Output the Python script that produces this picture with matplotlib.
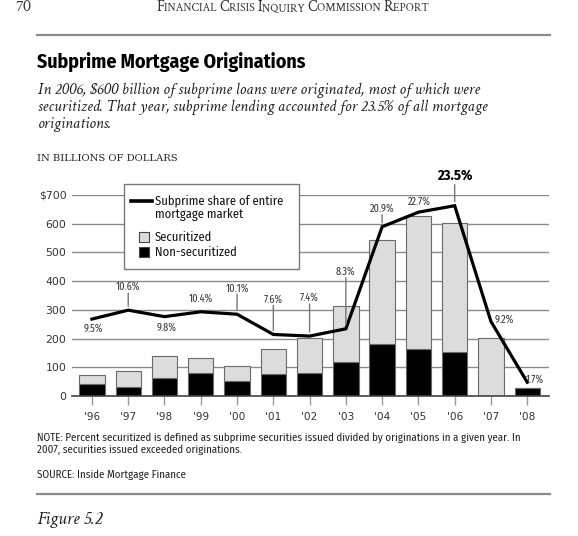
import matplotlib.pyplot as plt
import numpy as np
from matplotlib import font_manager as fm
from matplotlib.lines import Line2D
from matplotlib.patches import Rectangle

# data
years = ["'96", "'97", "'98", "'99", "'00", "'01", "'02", "'03", "'04", "'05", "'06", "'07", "'08"]
total = [73, 88, 140, 134, 105, 163, 203, 314, 543, 627, 603, 203, 27]
non_sec = [42, 33, 62, 79, 52, 76, 81, 120, 180, 164, 153, 0, 27]
share = [9.5, 10.6, 9.8, 10.4, 10.1, 7.6, 7.4, 8.3, 20.9, 22.7, 23.5, 9.2, 1.7]
share_labels = ["9.5%", "10.6%", "9.8%", "10.4%", "10.1%", "7.6%", "7.4%", "8.3%",
                "20.9%", "22.7%", "23.5%", "9.2%", "1.7%"]
yticks = [0, 100, 200, 300, 400, 500, 600, 700]
ytick_labels = ["0", "100", "200", "300", "400", "500", "600", "$700"]

sec = [t - n for t, n in zip(total, non_sec)]

W, H = 578, 536
PX = 0.72  # points per pixel at 100 dpi
L = 37     # left margin in pixels

available = {f.name for f in fm.fontManager.ttflist}

def pick(cands, default):
    return next((c for c in cands if c in available), default)

SANS = pick(["Fira Sans Condensed", "IBM Plex Sans Condensed", "Roboto Condensed",
             "Archivo Narrow", "PT Sans Narrow", "Liberation Sans Narrow"], "Liberation Sans")
SERIF = pick(["Crimson Text", "Crimson Pro", "Source Serif 4", "PT Serif"], "Liberation Serif")
TICKF = "DejaVu Sans"

def fx(x):
    return x / W

def fy(y):
    return 1 - y / H

fig = plt.figure(figsize=(W / 100, H / 100), dpi=100)
fig.patch.set_facecolor("white")
renderer = fig.canvas.get_renderer()

# page header, fake small caps
def small_caps(xc, y, text, big, small):
    parts = []
    for word in text.split(" "):
        parts.append((word[0], big))
        parts.append((word[1:].upper() + " ", small))
    x0 = 0
    arts = []
    for s, size in parts:
        t = fig.text(fx(x0), fy(y), s, family=SERIF, fontsize=size, color="#333333",
                     va="baseline")
        x0 += t.get_window_extent(renderer).width
        arts.append(t)
    shift = xc - x0 / 2
    for t in arts:
        px, py = t.get_position()
        t.set_position((px + fx(shift), py))

fig.text(fx(15), fy(11), "70", family=SERIF, fontsize=12, color="#333333", va="baseline")
small_caps(294, 11, "Financial Crisis Inquiry Commission Report", 10.8, 8.4)
fig.add_artist(Line2D([fx(L), fx(550)], [fy(35), fy(35)], color="#8a8a8a", lw=1.6))

fig.text(fx(L), fy(68), "Subprime Mortgage Originations", family=SANS, fontsize=14.3,
         fontweight="bold", color="black", va="baseline")
sub = ("In 2006, \\$600 billion of subprime loans were originated, most of which were\n"
       "securitized. That year, subprime lending accounted for 23.5% of all mortgage\n"
       "originations.")
fig.text(fx(L + 1), fy(83), sub, family=SERIF, style="italic", fontsize=11.9,
         color="#222222", va="top", linespacing=1.1)
fig.text(fx(L), fy(161), "IN BILLIONS OF DOLLARS", family="DejaVu Serif", fontsize=7.2,
         color="#222222", va="baseline")

# chart
ax = fig.add_axes([fx(72), fy(396), fx(549) - fx(72), fy(195) - fy(396)])
x = np.arange(len(years))
ax.bar(x, non_sec, width=0.7, color="black", edgecolor="#6a6a6a", linewidth=0.8, zorder=3)
ax.bar(x, sec, width=0.7, bottom=non_sec, color="#dcdcdc", edgecolor="#6a6a6a",
       linewidth=0.8, zorder=3)

ax.set_xlim(-0.55, 12.6)
ax.set_ylim(0, 700)
ax.set_yticks(yticks)
ax.set_yticklabels(ytick_labels, family=TICKF, fontsize=7.8, color="#333333")
ax.tick_params(axis="y", length=0, pad=4)
ax.set_xticks(x)
ax.set_xticklabels(years, family=TICKF, fontsize=7.6, color="#333333")
ax.tick_params(axis="x", length=6.5, width=1, color="#999999", pad=5)
ax.grid(axis="y", color="#8a8a8a", lw=1, zorder=0)
for s in ["top", "right", "left"]:
    ax.spines[s].set_visible(False)
ax.spines["bottom"].set_color("#444444")
ax.spines["bottom"].set_linewidth(1.2)
ax.spines["bottom"].set_zorder(5)

# share line on its own scale ($28.2bn per percentage point)
ax2 = ax.twinx()
ax2.set_ylim(0, 700 / 28.2)
ax2.axis("off")
ax2.plot(x, share, color="black", lw=2.3, zorder=6, solid_joinstyle="miter")

# label offsets from the point in pixels: (dx, dy, has leader)
place = [(1, -10, False), (0, 23, True), (2, -11, False), (0, 13, False), (0, 26, True),
         (0, 35, True), (0, 38, True), (0, 57, True), (0, 18, True), (1, 11, False),
         (0, 30, True), (13, 2, False), (8, 3, False)]
for i, (dx, dy, lead) in enumerate(place):
    big = i == 10
    ax2.annotate(share_labels[i], (x[i], share[i]), xytext=(dx * PX, dy * PX),
                 textcoords="offset points", ha="center", va="center", family=SANS,
                 fontsize=10.5 if big else 7.4, fontweight="bold" if big else "normal",
                 color="black" if big else "#333333", zorder=7, annotation_clip=False)
    if lead:
        top = dy - (9 if big else 6)
        ax2.annotate("", (x[i], share[i]), xytext=(0, top * PX), textcoords="offset points",
                     arrowprops=dict(arrowstyle="-", color="#777777", lw=1,
                                     shrinkA=0, shrinkB=4 * PX), zorder=7)

# legend, drawn in figure pixels
fig.add_artist(Rectangle((fx(124), fy(269)), fx(299) - fx(124), fy(184) - fy(269),
                         facecolor="white", edgecolor="#777777", lw=1, zorder=20))
fig.add_artist(Line2D([fx(131), fx(152)], [fy(201), fy(201)], color="black", lw=2.6,
                      zorder=21))
fig.add_artist(Rectangle((fx(139), fy(242)), fx(10), 10 / H,
                         facecolor="#dcdcdc", edgecolor="#444444", lw=0.8, zorder=21))
fig.add_artist(Rectangle((fx(139), fy(257)), fx(10), 10 / H,
                         facecolor="black", edgecolor="#444444", lw=0.8, zorder=21))
leg_text = [("Subprime share of entire", 201), ("mortgage market", 215),
            ("Securitized", 237), ("Non-securitized", 252)]
for s, yy in leg_text:
    fig.text(fx(155), fy(yy), s, family=SANS, fontsize=9, color="#111111", va="center",
             zorder=22)

# notes
note = ("NOTE: Percent securitized is defined as subprime securities issued divided by "
        "originations in a given year. In\n2007, securities issued exceeded originations.")
fig.text(fx(L), fy(432), note, family=SANS, fontsize=7.9, color="#222222", va="top",
         linespacing=1.2)
fig.text(fx(L), fy(475), "SOURCE: Inside Mortgage Finance", family=SANS, fontsize=7.9,
         color="#222222", va="center")
fig.add_artist(Line2D([fx(L), fx(550)], [fy(494), fy(494)], color="#8a8a8a", lw=1.6))
fig.text(fx(L), fy(524), "Figure 5.2", family=SERIF, style="italic", fontsize=13.4,
         color="#222222", va="baseline")

fig.savefig("out.png", dpi=100)
